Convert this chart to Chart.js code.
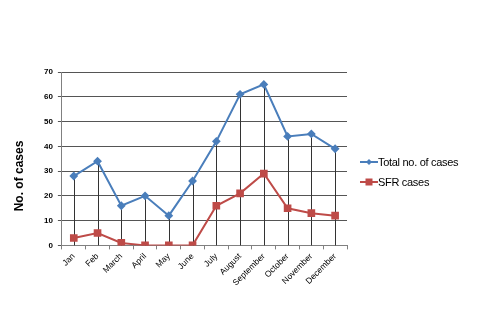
<!DOCTYPE html>
<html>
<head>
<meta charset="utf-8">
<script src="https://cdn.jsdelivr.net/npm/chart.js@4.4.1/dist/chart.umd.min.js"></script>
<style>
  body { margin: 0; background: #fff; }
  #wrap { position: relative; width: 478px; height: 334px; }
  #legend { position: absolute; left: 360px; top: 152px; font-family: "Liberation Sans Narrow", "Liberation Sans", Arial, sans-serif; font-size: 11px; color: #000; }
  .legend-item { display: flex; align-items: center; height: 20px; letter-spacing: -0.3px; }
  .legend-swatch { width: 18px; height: 10px; margin-right: 0px; }
</style>
</head>
<body>
<div id="wrap">
  <canvas id="chart" width="478" height="334"></canvas>
  <div id="legend"></div>
</div>
<script>
const months = ["Jan", "Feb", "March", "April", "May", "June", "July", "August", "September", "October", "November", "December"];
const totalCases = [28, 34, 16, 20, 12, 26, 42, 61, 65, 44, 45, 39];
const sfrCases = [3, 5, 1, 0, 0, 0, 16, 21, 29, 15, 13, 12];
const seriesNames = ["Total no. of cases", "SFR cases"];
const seriesColors = ["#4a7ebb", "#be4b48"];
const yTitle = "No. of cases";

// vertical lines from every Total point down to the x axis
const dropLines = {
    id: 'dropLines',
    beforeDatasetsDraw(chart) {
        const ctx = chart.ctx;
        const meta = chart.getDatasetMeta(0);
        const bottom = chart.scales.y.getPixelForValue(0);
        ctx.save();
        ctx.strokeStyle = '#333';
        ctx.lineWidth = 1;
        meta.data.forEach(pt => {
            const x = Math.round(pt.x) + 0.5;
            ctx.beginPath();
            ctx.moveTo(x, pt.y);
            ctx.lineTo(x, bottom);
            ctx.stroke();
        });
        ctx.restore();
    }
};

// y axis title sits a bit below the middle of the plot, like the original
const yTitlePlugin = {
    id: 'yTitle',
    afterDraw(chart) {
        const ctx = chart.ctx;
        ctx.save();
        ctx.translate(20, 176);
        ctx.rotate(-Math.PI / 2);
        ctx.font = "bold 12px 'Liberation Sans', Arial, sans-serif";
        ctx.fillStyle = '#000';
        ctx.textAlign = 'center';
        ctx.textBaseline = 'middle';
        ctx.fillText(yTitle, 0, 0);
        ctx.restore();
    }
};

const tickFont = { family: "Liberation Sans, Arial, sans-serif", size: 8.5 };

new Chart(document.getElementById('chart').getContext('2d'), {
    type: 'line',
    data: {
        labels: months,
        datasets: [
            {
                label: seriesNames[0],
                data: totalCases,
                borderColor: seriesColors[0],
                backgroundColor: seriesColors[0],
                borderWidth: 2,
                pointStyle: 'rectRot',
                pointRadius: 3,
                tension: 0
            },
            {
                label: seriesNames[1],
                data: sfrCases,
                borderColor: seriesColors[1],
                backgroundColor: seriesColors[1],
                borderWidth: 2,
                pointStyle: 'rect',
                pointRadius: 4,
                tension: 0
            }
        ]
    },
    options: {
        responsive: false,
        animation: false,
        layout: { padding: { left: 39, right: 131, top: 72, bottom: 44 } },
        plugins: {
            legend: { display: false },
            tooltip: { enabled: false }
        },
        scales: {
            x: {
                offset: true,
                grid: { offset: true, drawOnChartArea: false, color: '#808080', tickLength: 4 },
                border: { color: '#808080' },
                ticks: { color: '#000', font: tickFont, minRotation: 45, maxRotation: 45, padding: 2 }
            },
            y: {
                min: 0,
                max: 70,
                ticks: { stepSize: 10, color: '#000', font: { family: "Liberation Sans, Arial, sans-serif", size: 8, weight: 'bold' }, padding: 5 },
                grid: { color: '#555', tickLength: 4 },
                border: { color: '#808080' }
            }
        }
    },
    plugins: [dropLines, yTitlePlugin]
});

const legendContainer = document.getElementById('legend');
seriesNames.forEach((name, i) => {
    const item = document.createElement('div');
    item.classList.add('legend-item');
    const c = document.createElement('canvas');
    c.width = 18; c.height = 10;
    c.classList.add('legend-swatch');
    const g = c.getContext('2d');
    g.strokeStyle = seriesColors[i];
    g.fillStyle = seriesColors[i];
    g.lineWidth = 2;
    g.beginPath(); g.moveTo(0, 5); g.lineTo(18, 5); g.stroke();
    g.beginPath();
    if (i === 0) { g.moveTo(9, 2); g.lineTo(12, 5); g.lineTo(9, 8); g.lineTo(6, 5); g.closePath(); }
    else { g.rect(5.5, 1.5, 7, 7); }
    g.fill();
    const label = document.createElement('span');
    label.textContent = name;
    item.appendChild(c);
    item.appendChild(label);
    legendContainer.appendChild(item);
});
</script>
</body>
</html>
